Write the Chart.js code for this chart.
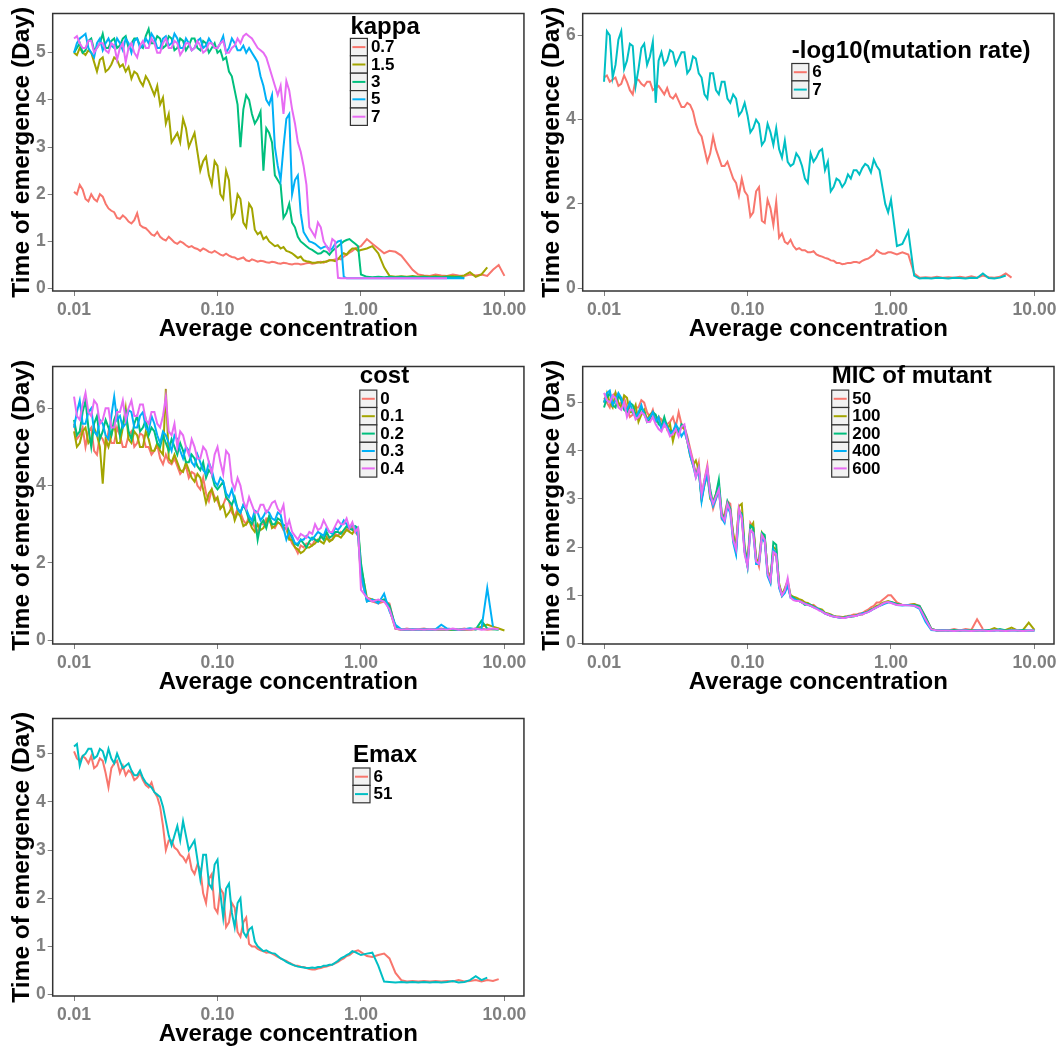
<!DOCTYPE html>
<html>
<head>
<meta charset="utf-8">
<script src="https://cdn.jsdelivr.net/npm/chart.js@4.4.1/dist/chart.umd.min.js"></script>
<style>
  body { margin: 0; background: #fff; width: 1062px; height: 1050px; overflow: hidden; position: relative; }
  canvas { position: absolute; }
  #warn { position: absolute; left: 600px; top: 800px; color: red; font: 14px sans-serif; }
</style>
</head>
<body>
<canvas id="p1" width="530" height="345" style="left:0;top:0"></canvas>
<canvas id="p2" width="532" height="345" style="left:530px;top:0"></canvas>
<canvas id="p3" width="530" height="345" style="left:0;top:353px"></canvas>
<canvas id="p4" width="532" height="345" style="left:530px;top:353px"></canvas>
<canvas id="p5" width="530" height="345" style="left:0;top:705px"></canvas>
<div id="warn"></div>
<script>
'use strict';

// concentration grid (finer below 1, where the curves are noisy)
const conc = [0.01000,0.01047,0.01096,0.01148,0.01202,0.01259,0.01318,0.01380,0.01445,0.01514,0.01585,0.01660,0.01738,0.01820,0.01905,0.01995,0.02089,0.02188,0.02291,0.02399,0.02512,0.02630,0.02754,0.02884,0.03020,0.03162,0.03311,0.03467,0.03631,0.03802,0.03981,0.04169,0.04365,0.04571,0.04786,0.05012,0.05248,0.05495,0.05754,0.06026,0.06310,0.06607,0.06918,0.07244,0.07586,0.07943,0.08318,0.08710,0.09120,0.09550,
  0.1000,0.1047,0.1096,0.1148,0.1202,0.1259,0.1318,0.1380,0.1445,0.1514,0.1585,0.1660,0.1738,0.1820,0.1905,0.1995,0.2089,0.2188,0.2291,0.2399,0.2512,0.2630,0.2754,0.2884,0.3020,0.3162,0.3311,0.3467,0.3631,0.3802,0.3981,0.4169,0.4365,0.4571,0.4786,0.5012,0.5248,0.5495,0.5754,0.6026,0.6310,0.6607,0.6918,0.7244,0.7586,0.7943,0.8318,0.8710,0.9120,0.9550,
  1.00,1.10,1.20,1.32,1.45,1.58,1.74,1.91,2.09,2.29,2.51,2.75,3.02,3.31,3.63,3.98,4.37,4.79,5.25,5.75,6.31,6.92,7.59,8.32,9.12,10.0];
const xTicks = [0.01, 0.1, 1, 10];

// panel 1 - kappa
const kappaLevels = ['0.7', '1.5', '3', '5', '7'];
const kappa07 = [2.05,2.0,2.2,2.1,1.9,1.85,2.0,1.9,1.85,2.0,1.95,1.8,1.7,1.65,1.62,1.5,1.48,1.55,1.5,1.42,1.38,1.45,1.6,1.35,1.3,1.28,1.22,1.15,1.12,1.2,1.1,1.05,1.02,1.1,1.04,0.98,0.95,1.0,0.97,0.92,0.88,0.9,0.86,0.84,0.8,0.85,0.82,0.78,0.76,0.8,
  0.76,0.72,0.7,0.74,0.7,0.67,0.66,0.62,0.64,0.66,0.6,0.58,0.62,0.6,0.57,0.59,0.58,0.56,0.55,0.57,0.56,0.54,0.53,0.55,0.54,0.52,0.51,0.53,0.53,0.51,0.52,0.54,0.55,0.53,0.54,0.56,0.57,0.55,0.58,0.6,0.6,0.62,0.64,0.62,0.68,0.72,0.76,0.8,0.85,0.88,
  0.9,1.05,0.95,0.85,0.75,0.8,0.78,0.7,0.55,0.4,0.3,0.28,0.27,0.3,0.28,0.27,0.3,0.28,0.27,0.3,0.28,0.3,0.27,0.4,0.5,0.27];
const kappa15 = [5.0,4.95,5.1,5.0,4.95,5.05,5.0,4.8,4.6,4.85,4.9,4.6,4.65,4.75,4.9,4.85,4.7,4.75,4.6,4.7,4.45,4.6,4.55,4.4,4.3,4.5,4.4,4.25,4.1,4.3,3.9,4.05,3.5,3.7,3.1,3.2,3.3,3.1,3.6,3.4,3.0,3.15,3.3,2.9,2.5,2.7,2.8,2.4,2.2,2.7,
  2.6,2.0,1.9,2.5,2.3,1.5,1.6,2.0,1.9,1.4,1.3,1.8,1.7,1.25,1.15,1.2,1.05,1.1,1.0,0.95,0.9,0.92,0.85,0.88,0.8,0.78,0.75,0.7,0.65,0.68,0.6,0.58,0.57,0.55,0.55,0.56,0.55,0.57,0.57,0.6,0.6,0.58,0.62,0.7,0.75,0.72,0.8,0.85,0.85,0.8,
  0.82,0.85,0.9,0.75,0.45,0.27,0.25,0.26,0.25,0.27,0.25,0.26,0.25,0.27,0.25,0.26,0.27,0.25,0.28,0.35,0.25,0.3,0.45,null,null,null];
const kappa3 = [5.0,5.1,5.2,5.0,5.05,5.25,5.3,5.05,5.1,5.2,5.4,5.1,5.1,5.25,5.3,5.1,5.15,5.3,5.35,5.1,5.2,5.3,5.3,5.15,5.1,5.35,5.5,5.2,5.2,5.35,5.3,5.1,5.15,5.35,5.3,5.05,5.1,5.3,5.25,5.05,5.15,5.3,5.3,5.1,5.05,5.25,5.2,5.0,5.1,5.2,
  5.0,5.05,4.85,4.9,4.6,4.5,4.2,3.9,3.0,3.8,4.1,4.0,3.7,3.5,3.6,3.75,2.5,3.4,3.3,3.1,2.4,2.3,2.2,1.5,1.6,1.8,1.4,1.3,1.1,1.0,0.95,0.9,0.85,0.82,0.78,0.74,0.75,0.8,0.78,0.72,0.8,0.85,0.9,0.95,1.0,1.03,1.05,1.0,0.95,0.9,
  0.3,0.25,0.24,0.25,0.24,0.25,0.24,0.25,0.24,0.25,0.24,0.25,0.24,0.25,0.24,0.25,0.24,0.25,0.22,null,null,null,null,null,null,null];
const kappa5 = [5.0,5.2,5.3,5.35,5.4,5.1,5.0,4.9,5.2,5.3,5.05,5.2,5.3,5.15,5.1,5.3,5.2,5.05,5.3,5.2,5.0,5.25,5.3,5.1,5.15,5.3,5.2,5.4,5.3,5.1,5.1,5.3,5.35,5.15,5.2,5.4,5.3,5.1,5.1,5.3,5.2,5.05,5.1,5.25,5.3,5.1,5.15,5.3,5.2,5.1,
  5.1,5.2,5.35,5.0,5.1,5.3,5.2,5.05,5.05,5.15,5.0,5.1,5.0,4.9,4.8,4.5,4.3,4.0,3.9,4.1,3.0,2.6,2.3,3.0,3.6,3.7,2.0,2.3,2.4,1.6,1.2,1.1,1.0,0.98,0.95,0.9,0.85,0.88,0.9,0.82,0.85,0.95,1.0,1.02,0.25,0.22,0.22,0.22,0.22,0.22,
  0.22,0.22,0.22,0.22,0.22,0.22,0.22,0.22,0.22,0.22,0.22,0.22,0.22,0.22,0.22,0.22,0.22,0.22,0.22,null,null,null,null,null,null,null];
const kappa7 = [5.3,5.35,5.2,5.1,5.1,5.25,5.25,5.0,5.1,5.2,5.2,5.05,5.0,5.2,5.15,4.85,5.1,5.2,4.8,5.1,5.2,5.0,4.9,5.15,5.25,5.1,5.1,5.3,5.2,5.0,5.0,5.2,5.3,5.1,5.1,5.25,5.2,4.95,5.05,5.2,5.2,5.05,5.1,5.25,5.15,5.0,5.05,5.2,5.2,5.1,
  5.1,5.2,5.25,5.0,5.0,5.1,5.15,5.3,5.2,5.35,5.4,5.35,5.3,5.2,5.1,5.05,5.0,4.9,4.7,4.5,4.3,4.1,4.3,3.7,4.4,4.2,3.8,3.5,3.1,2.9,2.6,2.2,1.3,1.2,1.1,1.4,1.3,1.0,0.9,0.8,1.05,1.0,0.23,0.22,0.22,0.22,0.22,0.22,0.22,0.22,
  0.22,0.22,0.22,0.22,0.22,0.22,0.22,0.22,0.22,0.22,0.22,0.22,0.22,0.22,0.22,0.22,null,null,null,null,null,null,null,null,null,null];

// panel 2 - mutation rate
const mutLevels = ['6', '7'];
const mut6 = [5.0,5.05,4.9,4.95,5.0,4.8,4.85,5.05,4.9,4.7,4.6,4.95,4.95,4.85,4.8,4.9,4.9,4.7,4.75,4.8,4.7,4.6,4.75,4.55,4.5,4.6,4.45,4.3,4.3,4.4,4.35,4.2,3.9,3.7,3.6,3.3,3.0,3.2,3.6,3.3,3.1,2.9,2.9,3.0,2.8,2.6,2.5,2.2,2.6,2.3,
  2.2,1.7,1.8,2.3,2.4,1.6,1.55,2.1,1.9,1.5,2.05,1.2,1.3,1.1,1.05,1.15,1.0,0.92,0.95,0.9,0.9,0.85,0.85,0.88,0.8,0.77,0.75,0.72,0.7,0.66,0.65,0.6,0.6,0.57,0.58,0.6,0.6,0.62,0.62,0.6,0.65,0.68,0.7,0.75,0.8,0.9,0.85,0.82,0.82,0.85,
  0.85,0.8,0.85,0.8,0.35,0.25,0.26,0.25,0.27,0.25,0.26,0.25,0.27,0.25,0.28,0.25,0.3,0.26,0.25,0.27,0.35,0.25,null,null,null,null];
const mut7 = [4.9,6.1,6.0,5.0,5.3,5.9,6.1,5.2,5.4,5.8,5.75,4.8,5.2,5.7,5.8,5.3,5.5,5.85,4.4,5.4,5.6,5.3,5.4,5.65,5.6,5.3,5.45,5.6,5.6,5.1,5.2,5.5,5.45,5.1,5.0,4.6,4.5,5.1,5.1,4.7,4.6,4.9,4.9,4.5,4.4,4.6,4.5,4.1,4.2,4.4,
  4.1,3.7,3.8,4.0,3.9,3.4,3.5,3.9,3.7,3.4,3.8,3.3,3.1,3.5,3.0,2.9,2.95,3.2,3.1,2.9,2.6,2.5,3.2,3.0,3.1,3.25,3.3,2.8,3.0,2.3,2.4,2.6,2.55,2.4,2.5,2.7,2.6,2.8,2.8,2.7,2.85,2.95,2.9,2.75,3.05,2.9,2.8,2.4,2.0,1.8,
  2.1,1.0,1.05,1.35,0.3,0.23,0.24,0.23,0.25,0.24,0.23,0.25,0.24,0.23,0.25,0.24,0.35,0.24,0.23,0.25,0.3,null,null,null,null,null];

// panel 3 - cost
const costLevels = ['0', '0.1', '0.2', '0.3', '0.4'];
const cost0 = [5.6,5.2,5.3,5.5,5.0,5.4,5.5,4.9,4.8,5.3,5.2,5.0,5.4,5.1,5.1,5.5,5.3,5.0,5.0,5.3,5.4,5.0,5.1,5.35,5.3,5.0,5.0,4.8,4.9,5.05,4.7,4.55,4.8,4.6,4.55,4.7,4.5,4.3,4.4,4.5,4.2,4.35,4.3,4.0,3.9,4.2,3.8,3.6,3.9,3.7,
  3.6,3.4,3.5,3.7,3.6,3.3,3.2,3.4,3.3,3.1,3.0,3.2,3.1,2.9,2.8,3.0,3.0,3.15,3.1,2.95,2.9,3.05,3.0,2.85,2.9,2.7,2.5,2.4,2.25,2.45,2.4,2.5,2.5,2.45,2.6,2.55,2.65,2.7,2.7,2.6,2.6,2.75,2.7,2.8,2.75,2.9,2.85,2.95,2.8,2.7,
  1.6,1.05,1.0,0.95,1.0,0.95,0.3,0.27,0.3,0.27,0.28,0.3,0.27,0.28,0.3,0.27,0.28,0.27,0.3,0.27,0.28,0.3,0.27,0.28,0.3,null];
const cost01 = [5.4,5.0,5.1,5.4,5.5,5.1,5.2,5.5,5.3,5.0,4.05,5.2,5.0,5.3,5.6,5.1,5.1,5.5,6.0,5.2,5.1,5.4,5.3,5.0,5.0,5.4,5.2,4.9,4.9,5.1,4.9,4.8,6.5,4.7,4.6,4.8,4.6,4.4,4.35,4.6,4.4,4.2,4.1,4.3,4.2,3.9,3.55,3.8,3.9,3.6,
  3.7,3.4,3.5,3.2,3.3,3.45,3.1,3.3,3.2,2.95,3.0,3.1,2.9,2.8,3.0,2.85,2.9,3.05,3.2,2.9,2.95,3.05,3.0,2.9,2.9,2.6,2.6,2.4,2.35,2.25,2.3,2.4,2.4,2.45,2.5,2.6,2.55,2.5,2.65,2.55,2.6,2.7,2.7,2.65,2.75,2.85,2.8,2.75,2.9,2.85,
  1.9,1.1,1.05,1.0,1.05,0.8,0.3,0.27,0.26,0.27,0.26,0.27,0.26,0.27,0.26,0.27,0.26,0.27,0.26,0.27,0.3,0.35,0.4,0.35,0.3,0.25];
const cost02 = [5.7,5.3,5.4,5.9,6.2,5.5,5.0,5.6,5.8,5.2,5.4,5.7,5.5,5.3,5.7,5.9,5.3,5.6,5.9,5.4,5.2,5.6,5.8,5.4,5.5,5.7,5.3,5.5,5.4,5.1,5.0,5.3,5.1,4.9,5.2,5.0,4.8,5.1,4.9,4.6,4.6,4.8,4.7,4.5,4.4,4.6,4.2,4.4,4.3,4.0,
  3.9,4.0,4.1,3.7,3.6,3.5,3.7,3.4,3.3,3.5,3.35,3.1,3.0,3.2,2.6,3.0,3.1,2.9,3.2,3.0,3.0,3.15,3.1,2.95,3.0,2.8,2.65,2.5,2.45,2.6,2.5,2.4,2.55,2.65,2.6,2.55,2.7,2.6,2.8,2.65,2.7,2.8,2.8,2.75,2.85,2.95,2.9,2.85,2.95,2.9,
  2.0,1.0,1.05,1.0,1.05,0.9,0.35,0.27,0.28,0.27,0.28,0.27,0.28,0.27,0.28,0.27,0.28,0.27,0.28,0.3,0.28,0.5,0.3,0.28,0.27,null];
const cost03 = [5.5,5.9,6.2,5.6,5.6,5.9,6.0,5.4,5.3,5.7,5.6,5.3,5.2,5.8,6.3,5.7,5.8,5.5,5.6,5.95,5.9,5.5,5.5,5.8,5.9,5.5,5.4,5.8,5.6,5.3,5.1,5.4,5.3,5.1,4.9,5.3,5.2,4.9,4.7,5.0,4.9,4.6,4.5,4.8,4.6,4.4,4.3,4.6,4.4,4.1,
  4.0,4.2,4.1,3.8,3.7,3.9,3.6,3.4,3.3,3.5,3.4,3.2,3.1,3.35,3.3,3.1,3.2,3.35,3.3,3.15,3.1,3.3,3.25,2.9,2.6,2.8,2.7,2.5,2.5,2.6,2.6,2.7,2.65,2.6,2.7,2.8,2.75,2.7,2.9,2.8,2.75,2.9,2.85,2.95,3.1,3.0,2.9,3.0,2.9,2.7,
  1.7,1.0,1.05,0.95,1.2,0.75,0.4,0.28,0.27,0.28,0.27,0.28,0.27,0.28,0.4,0.3,0.28,0.27,0.28,0.3,0.28,0.3,1.35,0.35,null,null];
const cost04 = [6.3,5.8,5.7,6.1,6.4,5.9,5.8,6.2,6.1,5.6,5.7,6.0,6.0,5.5,5.5,5.9,5.9,6.2,5.7,6.0,6.2,5.8,5.8,6.1,6.1,5.7,5.6,5.9,5.9,5.6,5.5,5.8,6.3,5.4,5.3,5.6,5.0,5.4,5.3,5.0,4.8,5.2,5.0,4.7,4.7,5.0,4.9,4.6,4.3,4.8,
  5.0,4.6,4.3,4.9,4.8,4.1,3.9,4.2,4.0,3.6,3.4,3.7,3.5,3.3,3.3,3.5,3.5,3.3,3.4,3.55,3.6,3.4,3.3,3.5,2.9,3.1,2.8,2.7,2.6,2.75,2.7,2.65,2.8,2.75,3.0,2.85,2.9,3.1,2.95,2.8,2.8,2.95,3.1,3.0,3.0,3.15,2.9,3.05,2.8,2.9,
  1.3,1.1,1.0,1.05,1.0,0.8,0.3,0.27,0.28,0.27,0.28,0.27,0.28,0.27,0.28,0.27,0.3,0.27,0.28,0.27,0.3,0.27,0.28,0.3,0.28,null];

// panel 4 - MIC of mutant
const micLevels = ['50', '100', '200', '400', '600'];
const mic50 = [5.1,5.0,4.9,5.15,5.2,4.95,5.0,5.1,4.9,4.7,4.75,4.9,4.9,5.05,5.0,4.8,4.7,4.85,4.6,4.7,4.65,4.5,4.55,4.6,4.7,4.5,4.8,4.55,4.5,4.3,4.05,3.8,3.5,3.75,3.05,3.4,3.7,3.1,2.8,3.0,3.2,2.6,2.7,2.95,2.9,2.2,2.1,2.8,2.6,1.9,
  1.7,2.5,2.4,1.8,1.6,2.2,2.2,1.5,1.4,1.9,1.8,1.2,1.05,1.1,1.2,0.98,0.95,0.92,0.9,0.88,0.85,0.82,0.78,0.8,0.75,0.7,0.67,0.63,0.6,0.58,0.57,0.55,0.56,0.55,0.55,0.57,0.58,0.6,0.6,0.62,0.63,0.67,0.7,0.75,0.78,0.85,0.85,0.9,0.95,1.0,
  1.0,0.85,0.8,0.8,0.82,0.78,0.55,0.3,0.27,0.28,0.27,0.3,0.27,0.3,0.28,0.5,0.3,null,null,null,null,null,null,null,null,null];
const mic100 = [5.0,5.2,5.0,4.9,5.2,5.0,4.9,5.15,5.1,4.8,4.8,4.95,4.6,4.75,4.85,4.65,4.75,4.8,4.6,4.7,4.5,4.65,4.45,4.55,4.2,4.45,4.4,4.5,4.45,4.2,3.9,3.7,3.8,3.6,3.0,3.3,3.5,3.0,2.95,3.1,3.3,2.7,2.6,2.9,2.75,2.3,2.0,2.85,2.9,2.0,
  1.7,2.4,2.5,1.7,1.75,2.3,2.2,1.5,1.3,2.0,1.95,1.25,1.0,1.15,1.3,1.0,0.97,0.95,0.92,0.9,0.85,0.84,0.8,0.78,0.73,0.72,0.7,0.64,0.62,0.6,0.57,0.56,0.55,0.54,0.56,0.55,0.55,0.58,0.58,0.6,0.6,0.64,0.66,0.7,0.73,0.78,0.8,0.84,0.86,0.88,
  0.86,0.82,0.8,0.8,0.82,0.76,0.52,0.3,0.27,0.27,0.28,0.27,0.27,0.28,0.27,0.27,0.28,0.27,0.32,0.27,0.28,0.33,0.27,0.28,0.43,0.28];
const mic200 = [4.9,5.1,5.2,4.95,4.9,5.15,5.05,4.85,4.8,5.0,4.95,4.75,4.7,4.9,4.8,4.6,4.65,4.8,4.75,4.55,4.5,4.7,4.5,4.4,4.4,4.5,4.35,4.55,4.5,4.25,3.95,3.75,3.5,3.65,3.0,3.35,3.6,3.2,2.9,3.1,3.4,2.7,2.55,2.95,2.8,2.2,1.9,2.75,2.7,1.95,
  1.6,2.45,2.4,1.7,1.65,2.3,2.25,1.45,1.3,2.1,2.05,1.2,1.0,1.1,1.25,0.98,0.95,0.9,0.88,0.85,0.8,0.82,0.8,0.76,0.74,0.7,0.67,0.63,0.6,0.58,0.56,0.55,0.54,0.53,0.54,0.56,0.57,0.56,0.58,0.6,0.62,0.64,0.66,0.7,0.72,0.76,0.78,0.82,0.84,0.86,
  0.86,0.82,0.8,0.8,0.8,0.78,0.55,0.3,0.27,0.28,0.27,0.28,0.27,0.28,0.27,0.28,0.27,0.28,0.27,0.3,0.27,0.28,0.27,0.28,0.27,0.27];
const mic400 = [5.0,5.2,5.25,4.95,5.05,5.2,5.1,4.9,4.85,5.0,4.8,4.7,4.8,4.95,4.75,4.65,4.7,4.8,4.6,4.7,4.45,4.6,4.5,4.35,4.4,4.55,4.45,4.3,4.4,4.2,3.9,3.7,3.45,3.6,2.95,3.3,3.5,3.05,2.85,3.0,3.2,2.6,2.5,2.85,2.7,2.1,1.85,2.7,2.65,1.9,
  1.6,2.35,2.3,1.65,1.65,2.2,2.1,1.4,1.25,1.95,1.85,1.15,0.98,1.05,1.2,0.95,0.93,0.9,0.88,0.85,0.83,0.8,0.78,0.75,0.73,0.7,0.66,0.62,0.6,0.58,0.56,0.55,0.54,0.53,0.54,0.55,0.56,0.57,0.58,0.6,0.62,0.63,0.65,0.68,0.72,0.75,0.78,0.8,0.83,0.85,
  0.85,0.8,0.79,0.8,0.78,0.72,0.45,0.28,0.27,0.27,0.27,0.26,0.27,0.27,0.26,0.27,0.27,0.26,0.27,0.27,0.26,0.27,0.27,0.26,0.27,0.27];
const mic600 = [5.2,5.05,5.0,5.15,5.1,4.9,4.85,5.0,4.7,4.85,4.85,4.65,4.7,4.8,4.75,4.6,4.6,4.7,4.55,4.45,4.4,4.55,4.45,4.3,4.35,4.45,4.3,4.5,4.55,4.2,4.0,3.75,3.45,3.65,3.1,3.4,3.65,3.1,2.9,3.05,3.2,2.65,2.55,2.9,2.75,2.15,1.95,2.8,2.6,1.85,
  1.6,2.35,2.3,1.7,1.65,2.25,2.15,1.45,1.3,1.9,1.85,1.2,1.0,1.1,1.35,0.95,0.9,0.88,0.88,0.85,0.82,0.8,0.78,0.75,0.72,0.68,0.66,0.62,0.6,0.57,0.56,0.55,0.54,0.53,0.53,0.55,0.56,0.57,0.57,0.6,0.6,0.63,0.65,0.68,0.72,0.75,0.78,0.82,0.85,0.86,
  0.84,0.8,0.8,0.79,0.78,0.74,0.5,0.29,0.27,0.27,0.27,0.26,0.27,0.27,0.26,0.27,0.27,0.26,0.27,0.27,0.26,0.27,0.27,0.26,0.27,0.27];

// panel 5 - Emax
const emaxLevels = ['6', '51'];
const emax6 = [5.05,4.9,4.85,4.95,4.9,4.8,4.95,4.7,4.75,4.9,4.85,4.6,4.3,4.7,4.8,4.85,4.6,4.75,4.55,4.65,4.6,4.45,4.5,4.6,4.45,4.35,4.3,4.4,4.2,4.1,3.9,3.5,3.0,3.2,3.2,3.05,3.0,2.9,2.85,2.75,2.9,2.6,2.5,2.7,2.6,2.1,1.9,2.4,2.5,1.8,
  1.7,2.2,2.1,1.4,1.5,1.9,1.8,1.3,1.2,1.5,1.6,1.05,1.0,1.0,0.95,0.92,0.9,0.87,0.88,0.85,0.82,0.78,0.75,0.72,0.7,0.66,0.63,0.6,0.6,0.58,0.57,0.55,0.53,0.52,0.52,0.54,0.55,0.57,0.58,0.6,0.62,0.65,0.68,0.72,0.75,0.8,0.82,0.87,0.9,0.92,
  0.88,0.8,0.78,0.82,0.85,0.75,0.45,0.3,0.27,0.28,0.27,0.28,0.27,0.28,0.27,0.28,0.27,0.3,0.27,0.28,0.3,0.27,0.3,0.28,0.32,null];
const emax51 = [5.15,5.2,4.75,4.95,5.0,5.1,5.1,4.9,4.95,5.1,5.05,4.85,5.1,4.9,4.8,5.0,4.85,4.7,4.75,4.8,4.65,4.55,4.55,4.65,4.5,4.4,4.35,4.3,4.2,4.15,4.1,3.9,3.6,3.3,3.1,3.3,3.5,3.2,3.6,3.3,3.0,3.1,3.2,2.8,2.4,2.9,2.9,2.3,2.2,2.7,
  2.8,2.1,1.6,2.2,2.3,1.7,1.4,1.9,2.0,1.3,1.2,1.35,1.4,1.1,1.0,0.95,0.9,0.92,0.88,0.86,0.85,0.8,0.75,0.72,0.68,0.65,0.62,0.6,0.58,0.57,0.56,0.55,0.55,0.56,0.55,0.57,0.57,0.6,0.6,0.62,0.62,0.66,0.7,0.75,0.78,0.82,0.85,0.9,0.88,0.85,
  0.82,0.85,0.87,0.6,0.27,0.26,0.25,0.26,0.25,0.26,0.25,0.26,0.25,0.26,0.25,0.26,0.28,0.25,0.26,0.3,0.38,0.3,0.35,null,null,null];

const pal5 = ['#F8766D', '#A3A500', '#00BF7D', '#00B0F6', '#E76BF3'];
const pal2 = ['#F8766D', '#00BFC4'];

const FAMILY = "'Liberation Sans', Arial, Helvetica, sans-serif";
const TICK_GREY = '#7f7f7f';
Chart.defaults.font.family = FAMILY;

// frame, y title and ggplot style legend, drawn over the plot
const frameLegend = {
  id: 'frameLegend',
  afterDatasetsDraw(chart, args, o) {
    const ctx = chart.ctx;
    const a = chart.chartArea;
    ctx.save();
    ctx.strokeStyle = '#333';
    ctx.lineWidth = 1.5;
    ctx.strokeRect(a.left, a.top, a.right - a.left, a.bottom - a.top);

    ctx.save();
    ctx.translate(22.7, (a.top + a.bottom) / 2);
    ctx.rotate(-Math.PI / 2);
    ctx.fillStyle = '#000';
    ctx.font = 'bold 24.5px ' + FAMILY;
    ctx.textAlign = 'center';
    ctx.textBaseline = 'middle';
    ctx.fillText('Time of emergence (Day)', 0, 0);
    ctx.restore();

    const kw = 17, kh = 17.4;
    ctx.fillStyle = '#000';
    ctx.font = 'bold 24px ' + FAMILY;
    ctx.textAlign = 'left';
    ctx.textBaseline = 'middle';
    ctx.fillText(o.title, o.x, o.titleY);
    o.labels.forEach((lab, i) => {
      const y = o.keyTop + i * kh;
      ctx.fillStyle = '#f2f2f2';
      ctx.fillRect(o.x, y, kw, kh);
      ctx.strokeStyle = '#333';
      ctx.lineWidth = 1.2;
      ctx.strokeRect(o.x, y, kw, kh);
      ctx.strokeStyle = o.colors[i];
      ctx.lineWidth = 2;
      ctx.beginPath();
      ctx.moveTo(o.x + 2, y + kh / 2);
      ctx.lineTo(o.x + kw - 2, y + kh / 2);
      ctx.stroke();
      ctx.fillStyle = '#000';
      ctx.font = 'bold 17px ' + FAMILY;
      ctx.fillText(lab, o.x + kw + 3.5, y + kh / 2 + 0.5);
    });
    ctx.restore();
  }
};

const bad = [];

function makePanel(id, p) {
  const n = p.series.length;
  p.series.forEach((s, i) => { if (s.length !== conc.length) bad.push(id + ':' + p.levels[i] + '=' + s.length); });
  const datasets = p.series.map((vals, i) => ({
    label: p.levels[i],
    data: vals.map((v, k) => ({ x: conc[k], y: v })),
    borderColor: p.colors[i],
    borderWidth: 2,
    pointRadius: 0,
    tension: 0,
    fill: false,
    order: n - i
  }));
  const tickFont = { size: 17.5, weight: 'bold' };
  const grid = { drawOnChartArea: false, drawTicks: true, tickLength: 5, color: TICK_GREY, lineWidth: 1 };

  new Chart(document.getElementById(id), {
    type: 'line',
    data: { datasets },
    options: {
      responsive: false,
      animation: false,
      devicePixelRatio: 1,
      layout: { padding: { left: 0, top: 13.5, right: p.padRight, bottom: 0 } },
      plugins: {
        legend: { display: false },
        tooltip: { enabled: false },
        frameLegend: { title: p.legendTitle, labels: p.levels, colors: p.colors, x: p.lx, titleY: p.ly, keyTop: p.kt }
      },
      scales: {
        x: {
          type: 'logarithmic',
          min: 0.0071,
          max: 13.68,
          afterBuildTicks: ax => { ax.ticks = xTicks.map(v => ({ value: v })); },
          afterFit: ax => { ax.height = 54; },
          ticks: { callback: v => Number(v).toFixed(2), color: TICK_GREY, font: tickFont, padding: 3.5, maxRotation: 0, autoSkip: false },
          grid: grid,
          border: { display: false },
          title: { display: true, text: 'Average concentration', color: '#000', font: { size: 24, weight: 'bold' }, padding: { top: 0, bottom: 1 } }
        },
        y: {
          type: 'linear',
          min: p.yMin,
          max: p.yMax,
          afterBuildTicks: ax => { ax.ticks = p.yTicks.map(v => ({ value: v })); },
          afterFit: ax => { ax.width = 52.7; },
          ticks: { callback: v => v, color: TICK_GREY, font: tickFont, padding: 2 },
          grid: grid,
          border: { display: false }
        }
      }
    },
    plugins: [frameLegend]
  });
}

makePanel('p1', {
  series: [kappa07, kappa15, kappa3, kappa5, kappa7], levels: kappaLevels, colors: pal5,
  legendTitle: 'kappa', lx: 350.4, ly: 26.9, kt: 38.4,
  yMin: -0.05, yMax: 5.83, yTicks: [0, 1, 2, 3, 4, 5], padRight: 4.3
});
makePanel('p2', {
  series: [mut6, mut7], levels: mutLevels, colors: pal2,
  legendTitle: '-log10(mutation rate)', lx: 261.8, ly: 51.8, kt: 63.5,
  yMin: -0.067, yMax: 6.52, yTicks: [0, 2, 4, 6], padRight: 8
});
makePanel('p3', {
  series: [cost0, cost01, cost02, cost03, cost04], levels: costLevels, colors: pal5,
  legendTitle: 'cost', lx: 359.8, ly: 23.7, kt: 37.1,
  yMin: -0.1, yMax: 7.08, yTicks: [0, 2, 4, 6], padRight: 4.3
});
makePanel('p4', {
  series: [mic50, mic100, mic200, mic400, mic600], levels: micLevels, colors: pal5,
  legendTitle: 'MIC of mutant', lx: 301.7, ly: 23.7, kt: 37.1,
  yMin: -0.012, yMax: 5.75, yTicks: [0, 1, 2, 3, 4, 5], padRight: 8
});
makePanel('p5', {
  series: [emax6, emax51], levels: emaxLevels, colors: pal2,
  legendTitle: 'Emax', lx: 353, ly: 49.9, kt: 63,
  yMin: -0.03, yMax: 5.73, yTicks: [0, 1, 2, 3, 4, 5], padRight: 4.3
});

if (bad.length) document.getElementById('warn').textContent = 'length mismatch ' + bad.join(' ');
</script>
</body>
</html>
